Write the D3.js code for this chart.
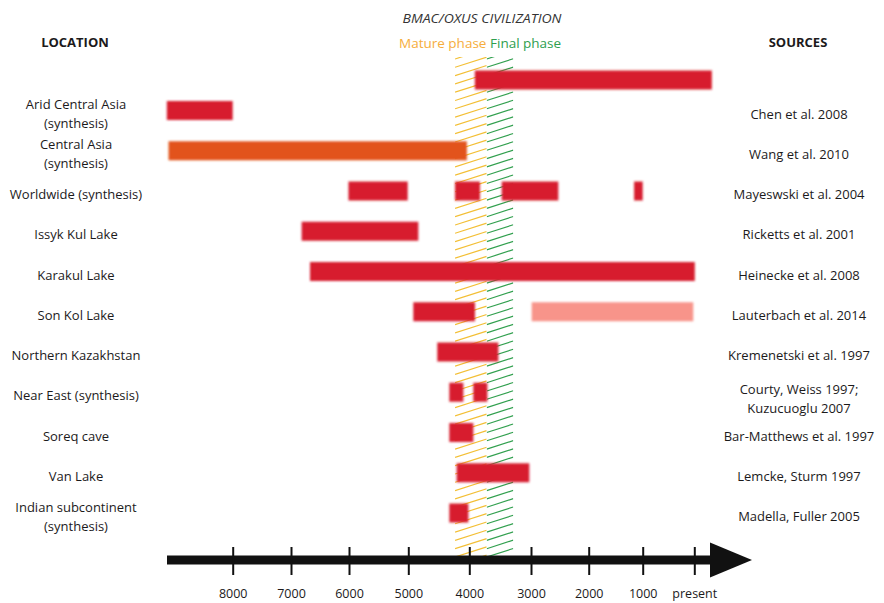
<!DOCTYPE html>
<html>
<head>
<meta charset="utf-8">
<script src="https://cdn.jsdelivr.net/npm/d3@7"></script>
<style>
  html, body { margin: 0; padding: 0; background: #fff; }
  svg { display: block; font-family: "Open Sans", "DejaVu Sans", sans-serif; }
</style>
</head>
<body>
<svg id="chart" width="884" height="603"></svg>
<script>
// ---------- DATA ----------
const rows = ["top", "arid", "central", "world", "issyk", "karakul", "sonkol", "nkaz", "neareast", "soreq", "van", "indian"];
const locationLabels = [
  [],
  ["Arid Central Asia", "(synthesis)"],
  ["Central Asia", "(synthesis)"],
  ["Worldwide (synthesis)"],
  ["Issyk Kul Lake"],
  ["Karakul Lake"],
  ["Son Kol Lake"],
  ["Northern Kazakhstan"],
  ["Near East (synthesis)"],
  ["Soreq cave"],
  ["Van Lake"],
  ["Indian subcontinent", "(synthesis)"]
];
const sourceLabels = [
  [],
  ["Chen et al. 2008"],
  ["Wang et al. 2010"],
  ["Mayeswski et al. 2004"],
  ["Ricketts et al. 2001"],
  ["Heinecke et al. 2008"],
  ["Lauterbach et al. 2014"],
  ["Kremenetski et al. 1997"],
  ["Courty, Weiss 1997;", "Kuzucuoglu 2007"],
  ["Bar-Matthews et al. 1997"],
  ["Lemcke, Sturm 1997"],
  ["Madella, Fuller 2005"]
];
// dry intervals (years BP): row, from, to, kind
const intervalRow  = ["top", "arid", "central", "world", "world", "world", "world", "issyk", "karakul", "sonkol", "sonkol", "nkaz", "neareast", "neareast", "soreq", "van", "indian"];
const intervalFrom = [3910, 9130, 9100, 6010, 4234, 3474, 1160, 6816, 6672, 4918, 2988, 4525, 4328, 3935, 4328, 4207, 4328];
const intervalTo   = [-340, 8000, 4040, 5010, 3827, 2527, 1000, 4836, -10, 3908, 20, 3530, 4098, 3708, 3935, 3028, 4016];
const intervalKind = ["dry", "dry", "orange", "dry", "dry", "dry", "dry", "dry", "dry", "dry", "light", "dry", "dry", "dry", "dry", "dry", "dry"];

// BMAC / Oxus civilization phases (years BP)
const phaseNames = ["Mature phase", "Final phase"];
const phaseFrom = [4234, 3718];
const phaseTo   = [3718, 3287];

// time axis
const tickValues = [8000, 7000, 6000, 5000, 4000, 3000, 2000, 1000, 0];
const tickLabels = ["8000", "7000", "6000", "5000", "4000", "3000", "2000", "1000", "present"];

// ---------- LAYOUT ----------
const tickPx = [232.7, 291, 349, 408.3, 469.3, 531, 588.7, 642.7, 694.3];
const colors = { dry: "#d71f2d", orange: "#e2531f", light: "#f8948a" };
const phaseColors = ["#f3bf35", "#32a04f"];
const phaseTextColors = ["#f6ad3c", "#2e9e4e"];
const textColor = "#1c1a1b";

const svg = d3.select("#chart");
const x = d3.scaleLinear().domain(tickValues).range(tickPx);
const yRows = d3.scalePoint().domain(rows.slice(1)).range([110.5, 513]);
const y = r => r === "top" ? 80 : yRows(r);
const barH = 19;
const hatchTop = 57, hatchBottom = 556;

const defs = svg.append("defs");
const blur = defs.append("filter").attr("id", "soft")
  .attr("x", "-50%").attr("y", "-50%").attr("width", "200%").attr("height", "200%");
blur.append("feGaussianBlur").attr("stdDeviation", 1.2);

// ---------- HATCHED PHASES ----------
const hatchG = svg.append("g");
phaseNames.forEach((name, i) => {
  const x0 = x(phaseFrom[i]), x1 = x(phaseTo[i]);
  const cid = "clip" + i;
  defs.append("clipPath").attr("id", cid).append("rect")
    .attr("x", x0).attr("y", hatchTop).attr("width", x1 - x0).attr("height", hatchBottom - hatchTop);
  const rise = 0.32 * (x1 - x0);
  const g = hatchG.append("g").attr("clip-path", `url(#${cid})`);
  g.selectAll("line").data(d3.range(hatchTop + 2, hatchBottom + rise + 8, 8.3))
    .join("line")
    .attr("x1", x0).attr("y1", d => d)
    .attr("x2", x1).attr("y2", d => d - rise)
    .attr("stroke", phaseColors[i]).attr("stroke-width", 1.2);
});

// ---------- BARS ----------
const bars = intervalRow.map((r, i) => ({ row: r, from: intervalFrom[i], to: intervalTo[i], kind: intervalKind[i] }));
svg.append("g").attr("filter", "url(#soft)")
  .selectAll("rect").data(bars).join("rect")
  .attr("x", d => x(d.from))
  .attr("width", d => x(d.to) - x(d.from))
  .attr("y", d => y(d.row) - barH / 2)
  .attr("height", barH)
  .attr("fill", d => colors[d.kind]);

// ---------- LABELS ----------
const lineH = 19;
const labG = svg.append("g").attr("fill", textColor).attr("font-size", 13).attr("text-anchor", "middle");
rows.forEach((r, i) => {
  const loc = locationLabels[i];
  loc.forEach((t, j) => {
    labG.append("text").attr("x", 76)
      .attr("y", y(r) + 3 + (j - (loc.length - 1) / 2) * lineH)
      .attr("dominant-baseline", "central").text(t);
  });
  const src = sourceLabels[i];
  src.forEach((t, j) => {
    labG.append("text").attr("x", 799)
      .attr("y", y(r) + (src.length > 1 ? 6 : 3) + (j - (src.length - 1) / 2) * lineH)
      .attr("dominant-baseline", "central").text(t);
  });
});

// headers
svg.append("text").attr("x", 75).attr("y", 42).attr("text-anchor", "middle")
  .attr("font-weight", "bold").attr("font-size", 13).attr("fill", textColor)
  .attr("dominant-baseline", "central").text("LOCATION");
svg.append("text").attr("x", 798).attr("y", 42).attr("text-anchor", "middle")
  .attr("font-weight", "bold").attr("font-size", 13).attr("fill", textColor)
  .attr("dominant-baseline", "central").text("SOURCES");
svg.append("text").attr("x", 482).attr("y", 18).attr("text-anchor", "middle")
  .attr("font-style", "italic").attr("font-size", 12.5).attr("fill", "#333")
  .attr("dominant-baseline", "central").attr("textLength", 159).attr("lengthAdjust", "spacingAndGlyphs")
  .text("BMAC/OXUS CIVILIZATION");
const phaseText = svg.append("text").attr("y", 43).attr("font-size", 13.5).attr("dominant-baseline", "central");
phaseText.append("tspan").attr("x", 399).attr("fill", phaseTextColors[0]).text(phaseNames[0]);
phaseText.append("tspan").attr("x", 490).attr("fill", phaseTextColors[1]).text(phaseNames[1]);

// ---------- AXIS ----------
const axisY = 560;
const axisG = svg.append("g");
axisG.append("rect").attr("x", 167).attr("y", axisY - 4.5).attr("width", 546).attr("height", 9).attr("fill", "#111");
axisG.append("path")
  .attr("d", `M710,${axisY - 17.5} L752,${axisY} L710,${axisY + 17.5} Z`)
  .attr("fill", "#111");
const axis = d3.axisBottom(x).tickValues(tickValues)
  .tickFormat((d, i) => tickLabels[i]).tickSize(28).tickPadding(14);
const ax = svg.append("g").attr("transform", `translate(0,${axisY - 13})`).call(axis);
ax.select(".domain").remove();
ax.selectAll(".tick line").attr("stroke", "#111").attr("stroke-width", 2);
ax.selectAll(".tick text").attr("font-size", 12.5).attr("fill", textColor)
  .attr("font-family", "\"Open Sans\", sans-serif");
</script>
</body>
</html>
